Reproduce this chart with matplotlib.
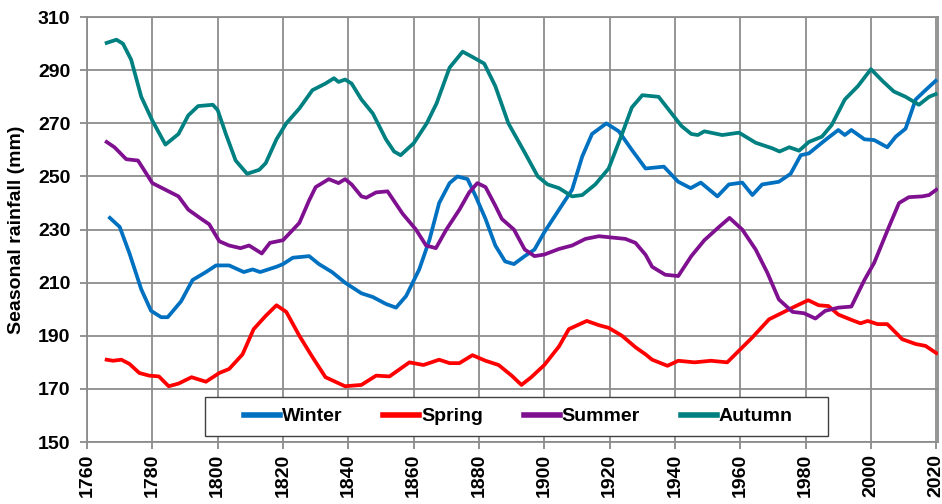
import matplotlib.pyplot as plt
from matplotlib.patches import Rectangle

plt.rcParams["font.family"] = ["Liberation Sans", "DejaVu Sans"]

# Values (year, seasonal rainfall in mm)
winter_years = [1767, 1770, 1773, 1776.6, 1779.6, 1782.7, 1784.7, 1788.8, 1792.3, 1796.4,
                1799.5, 1803.5, 1808, 1810.7, 1813, 1818, 1820, 1823, 1828, 1831,
                1835, 1839, 1844, 1847.5, 1851.5, 1854.6, 1857.7, 1861.7, 1864.8, 1867.8,
                1871, 1873.4, 1876.5, 1879, 1882, 1885, 1888, 1890.7, 1894, 1897,
                1900, 1904.5, 1908.5, 1911.6, 1914.6, 1919, 1922.8, 1926.8, 1931, 1936.6,
                1941, 1944.8, 1947.9, 1953, 1956.5, 1960.6, 1963.7, 1966.7, 1971.8, 1975.4,
                1978.5, 1981, 1986, 1990, 1992, 1994, 1998, 2001, 2005, 2007.6,
                2010.6, 2013.7, 2016.7, 2019.8]
winter_values = [234.4, 231, 221, 207.5, 199.4, 197, 197, 203, 211, 214,
                 216.5, 216.5, 214, 215, 214, 216, 217, 219.4, 220, 217,
                 214, 210, 206, 204.6, 202, 200.6, 205, 215, 226, 240,
                 247.5, 250, 249, 242.5, 234, 224, 218, 217, 220, 222.5,
                 229, 237.5, 245, 257.5, 266, 270, 267, 260, 253, 253.7,
                 248, 245.6, 247.7, 242.5, 247, 247.7, 243, 247, 248, 251,
                 258, 258.7, 263.7, 267.5, 265.6, 267.5, 264, 263.7, 261, 265,
                 268, 279, 282.5, 286]

spring_years = [1766, 1768, 1770.5, 1773, 1776, 1779, 1782, 1785, 1788, 1792,
                1796.4, 1800.5, 1803.5, 1807.6, 1811, 1814.7, 1818, 1821, 1825, 1829,
                1833, 1839, 1844, 1848.5, 1852.6, 1858.7, 1863, 1867.8, 1871, 1874,
                1878, 1882, 1886, 1890, 1893, 1896, 1900, 1904.5, 1907.5, 1913,
                1916.7, 1919.7, 1923.8, 1928, 1931, 1933, 1937.7, 1941, 1946, 1951,
                1956, 1959.6, 1963.7, 1968.8, 1972.9, 1977, 1980.8, 1984, 1987, 1990,
                1994, 1996.8, 1999, 2002, 2005, 2009.6, 2013.7, 2016.7, 2020]
spring_values = [181, 180.6, 181, 179.4, 176, 175, 174.7, 171, 172, 174.4,
                 172.7, 176, 177.5, 183, 192.5, 197.5, 201.5, 199, 190, 182,
                 174.4, 171, 171.5, 175, 174.7, 180, 179, 181, 179.7, 179.7,
                 182.7, 180.6, 179, 175, 171.5, 174.4, 179, 186, 192.5, 195.6,
                 194, 193, 190, 185.6, 183, 181, 178.7, 180.6, 180, 180.6,
                 180, 184.4, 189.4, 196.2, 198.7, 201.2, 203.4, 201.5, 201.2, 198,
                 196, 194.7, 195.6, 194.4, 194.4, 188.7, 186.9, 186.2, 183.5]

summer_years = [1766, 1768.4, 1772, 1775.6, 1780, 1784, 1788, 1791, 1795, 1797.4,
                1800.5, 1803.5, 1807, 1809.6, 1813.5, 1816, 1820, 1825, 1828, 1830,
                1834, 1837, 1839, 1841, 1844, 1845.5, 1848.5, 1852, 1856.6, 1860.7,
                1863.8, 1866.8, 1870, 1874, 1877, 1879.5, 1882, 1885, 1887, 1890.7,
                1894, 1897, 1900, 1904.5, 1908.5, 1912.6, 1916.7, 1920.7, 1924.8, 1927.9,
                1931, 1933, 1937, 1941, 1945, 1949, 1953.5, 1956.7, 1960.6, 1964.7,
                1968.3, 1971.8, 1976, 1979.5, 1983, 1986, 1990, 1994, 1998, 2001,
                2005.5, 2008.6, 2011.6, 2015.7, 2017.8, 2020]
summer_values = [263, 261, 256.5, 256, 247.5, 245, 242.5, 237.5, 234, 232,
                 225.6, 224, 223, 224, 221, 225, 226, 232.5, 241, 246,
                 249, 247.5, 249, 247, 242.5, 242, 244, 244.4, 236, 230,
                 224, 223, 230, 237.5, 244, 247.5, 246, 239, 234, 230,
                 222.5, 220, 220.6, 222.7, 224, 226.5, 227.5, 227, 226.5, 225,
                 220.5, 216, 213, 212.5, 220, 226, 231, 234.4, 230, 222.5,
                 213.7, 203.7, 199, 198.5, 196.5, 199.4, 200.6, 201, 211, 217.5,
                 231, 240, 242.2, 242.5, 243, 245]

autumn_years = [1766, 1769, 1771, 1773.5, 1776.6, 1780, 1784, 1788, 1791, 1794,
                1798.5, 1800, 1802.5, 1805.5, 1809, 1812.7, 1814.7, 1818, 1821, 1825,
                1829, 1833, 1835.6, 1837, 1839, 1841, 1844, 1847.5, 1851.5, 1854,
                1856, 1860, 1864, 1867, 1871, 1875, 1878, 1881.6, 1885, 1889,
                1894, 1898, 1901, 1904.5, 1908.5, 1911.6, 1915.6, 1919.7, 1923.8, 1926.8,
                1930, 1935, 1939, 1942, 1945, 1947, 1949, 1954.5, 1959.6, 1964.7,
                1969.8, 1972, 1975, 1978, 1981, 1985, 1988, 1992, 1996, 2000,
                2003.5, 2007, 2010.6, 2014.7, 2017.8, 2019.8]
autumn_values = [300.3, 301.5, 300, 294, 280, 271, 262, 266, 273, 276.5,
                 277, 275, 266, 256, 251, 252.5, 255, 264, 270, 275.6,
                 282.5, 285, 287, 285.6, 286.5, 285, 279, 273.7, 264, 259.4,
                 258, 262.5, 270, 277.5, 291, 297, 295, 292.5, 284, 270,
                 259, 250, 247, 245.6, 242.5, 243, 247, 253, 266, 276,
                 280.6, 280, 273.7, 269, 266, 265.6, 267, 265.6, 266.5, 262.7,
                 260.6, 259.4, 261, 259.7, 263, 265, 269.4, 279, 284, 290.4,
                 286, 282, 280, 277, 280, 281]

series = [
    ("Winter", winter_years, winter_values, "#0070C0"),
    ("Spring", spring_years, spring_values, "#FF0000"),
    ("Summer", summer_years, summer_values, "#7F1090"),
    ("Autumn", autumn_years, autumn_values, "#008080"),
]

x_ticks = list(range(1760, 2021, 20))
y_ticks = list(range(150, 311, 20))

fig = plt.figure(figsize=(9.42, 5.04), dpi=100)
ax = fig.add_axes([0.0924, 0.123, 0.9036, 0.843])

for name, years, values, color in series:
    ax.plot(years, values, color=color, linewidth=2.7, label=name,
            solid_joinstyle="round", zorder=3)

ax.set_xlim(1760, 2020.6)
ax.set_ylim(150, 310)
ax.set_xticks(x_ticks)
ax.set_yticks(y_ticks)
ax.set_xticklabels([str(t) for t in x_ticks], rotation=90)
ax.tick_params(axis="both", labelsize=14, length=5, width=1.2, color="#808080",
               direction="out")
ax.tick_params(axis="y", pad=7)
for label in ax.get_xticklabels() + ax.get_yticklabels():
    label.set_fontweight("bold")

ax.grid(True, color="#8C8C8C", linewidth=1.3, zorder=1)
for spine in ax.spines.values():
    spine.set_color("#8C8C8C")
    spine.set_linewidth(1.3)

ax.set_ylabel("Seasonal rainfall (mm)", fontsize=14, fontweight="bold", labelpad=9)

# legend box is wider than its entries, so draw the frame separately
box = Rectangle((0.1387, 0.0141), 0.732, 0.0918, transform=ax.transAxes,
                facecolor="white", edgecolor="#404040", linewidth=1.0, zorder=4)
ax.add_patch(box)

leg = ax.legend(loc="center", bbox_to_anchor=(0.5065, 0.06), ncol=4,
                frameon=False, prop={"size": 14, "weight": "bold"},
                handlelength=1.85, handletextpad=0.1, columnspacing=2.1,
                borderpad=0, borderaxespad=0)
for line in leg.get_lines():
    line.set_linewidth(4)
leg.set_zorder(5)

fig.savefig("out.png", dpi=100)
